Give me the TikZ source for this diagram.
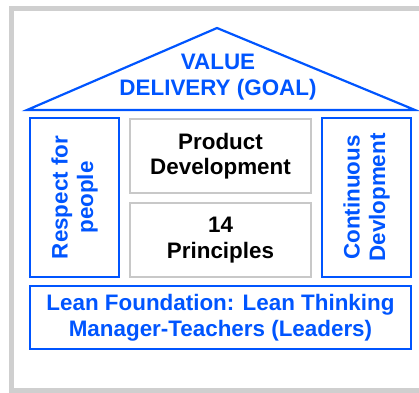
\documentclass[tikz,border=0pt]{standalone}
\usepackage{fontspec}
\setmainfont{Liberation Sans}
\definecolor{leanblue}{RGB}{0,85,255}
\definecolor{framegray}{RGB}{207,207,207}
\definecolor{boxgray}{RGB}{200,200,200}
\tikzset{
  txt/.style={font=\bfseries\fontsize{22.4}{25.5}\selectfont, align=center, inner sep=0pt},
  bluebox/.style={draw=leanblue, line width=2.2pt, rectangle, inner sep=0pt},
  graybox/.style={draw=boxgray, line width=2.5pt, rectangle, inner sep=0pt},
}
\begin{document}
\begin{tikzpicture}[x=1pt,y=-1pt]
\useasboundingbox (0,0) rectangle (419,392);
% outer frame
\draw[framegray, line width=5pt] (425,8.5) -- (11.5,8.5) -- (11.5,390) -- (425,390);
% roof
\coordinate (apex) at (217,28);
\coordinate (roofL) at (27,110);
\coordinate (roofR) at (415,110);
\draw[leanblue, line width=2.2pt, line join=miter] (roofL) -- (apex) -- (roofR) -- cycle;
\node[txt, text=leanblue] (goal) at (218,77) {VALUE\\DELIVERY (GOAL)};
% pillars
\node[bluebox, minimum width=89pt, minimum height=159pt] (respect) at (74.5,197.5) {};
\node[txt, text=leanblue, rotate=90] (respecttxt) at (respect.center) {Respect for\\people};
\node[bluebox, minimum width=89pt, minimum height=159pt] (cont) at (366.5,197.5) {};
\node[txt, text=leanblue, rotate=90] (conttxt) at (cont.center) {Continuous\\Devlopment};
% middle boxes
\node[graybox, minimum width=181pt, minimum height=74pt] (prod) at (220.5,156) {};
\node[txt, text=black] (prodtxt) at (prod.center) {Product\\Development};
\node[graybox, minimum width=181pt, minimum height=74pt] (princ) at (220.5,240) {};
\node[txt, text=black] (princtxt) at (princ.center) {14\\Principles};
% foundation
\node[bluebox, minimum width=381pt, minimum height=63pt] (found) at (220.5,317.5) {};
\node[txt, text=leanblue] (foundtxt) at (found.center) {Lean Foundation: Lean Thinking\\Manager-Teachers (Leaders)};
\end{tikzpicture}
\end{document}
